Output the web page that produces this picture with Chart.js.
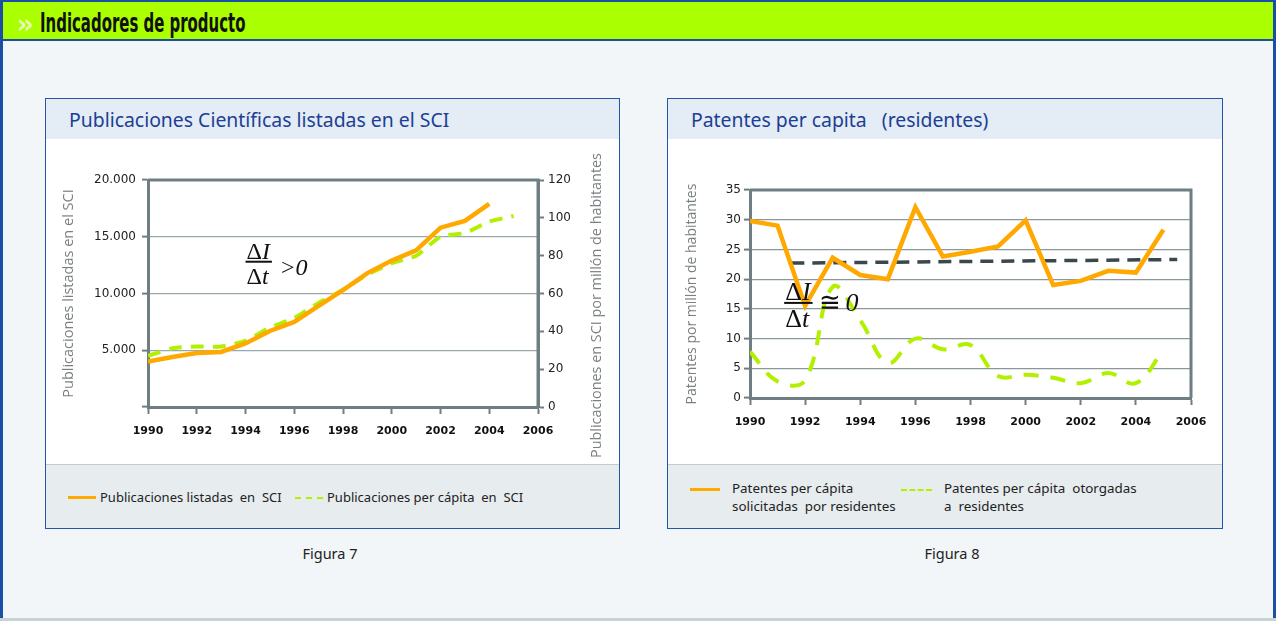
<!DOCTYPE html>
<html>
<head>
<meta charset="utf-8">
<script src="https://cdn.jsdelivr.net/npm/chart.js@4"></script>
<style>
  body { margin: 0; background: #fff; }
  #page { position: relative; width: 1276px; height: 621px; overflow: hidden; background: #f2f6f8; font-family: "Noto Sans", sans-serif; }
  #page .bl { position: absolute; left: 0; top: 0; width: 3px; height: 621px; background: #1b4fa6; }
  #page .br { position: absolute; right: 0; top: 0; width: 3px; height: 621px; background: #1b4fa6; }
  #page .bb { position: absolute; left: 0; bottom: 0; width: 1276px; height: 3px; background: #c4d4d4; }
  .header { position: absolute; left: 0; top: 0; width: 1276px; height: 41px; background: #aaff00; border-top: 2px solid #1b4fa6; border-bottom: 2px solid #1b4fa6; box-sizing: border-box; }
  .header .chev { position: absolute; left: 17px; top: 6px; color: #eaffc2; font: bold 27px "DejaVu Sans", sans-serif; letter-spacing: -4px; transform: scaleX(0.9); transform-origin: left; }
  .header .txt { position: absolute; left: 40px; top: 5px; font: bold 27px "Liberation Sans Narrow", "DejaVu Sans Condensed", sans-serif; color: #111; transform: scaleX(0.615); transform-origin: left; white-space: nowrap; }
  .panel { position: absolute; top: 98px; border: 1px solid #2456a8; background: #fff; box-sizing: border-box; }
  .panel .ttl { position: absolute; left: 0; top: 0; right: 0; height: 40px; background: #e4ecf5; color: #1c3f94; font-size: 19.4px; line-height: 42px; padding-left: 23px; white-space: nowrap; }
  .panel canvas { position: absolute; left: 0; top: 40px; }
  .panel .leg { position: absolute; left: 0; right: 0; bottom: 0; height: 63px; background: #e7ecef; border-top: 1px solid #c3cbcf; font-size: 13.4px; color: #222; }
  .leg .it { position: absolute; white-space: nowrap; line-height: 18px; }
  .leg .sw { position: absolute; width: 28px; height: 0; }
  .cap { position: absolute; top: 543px; font-size: 14.5px; color: #222; width: 200px; text-align: center; }
</style>
</head>
<body>
<div id="page">
  <div class="header"><span class="chev">››</span><span class="txt">Indicadores de producto</span></div>
  <div class="bl"></div><div class="br"></div><div class="bb"></div>

  <div class="panel" style="left:45px; width:575px; height:431px;">
    <div class="ttl">Publicaciones Científicas listadas en el SCI</div>
    <canvas id="c1" width="573" height="326"></canvas>
    <div class="leg" id="leg1"></div>
  </div>
  <div class="cap" style="left:230px;">Figura 7</div>

  <div class="panel" style="left:667px; width:556px; height:431px;">
    <div class="ttl">Patentes per capita&nbsp;&nbsp; (residentes)</div>
    <canvas id="c2" width="554" height="326"></canvas>
    <div class="leg" id="leg2"></div>
  </div>
  <div class="cap" style="left:852px;">Figura 8</div>
</div>

<script>
// Figura 7 data
const years = [1990, 1991, 1992, 1993, 1994, 1995, 1996, 1997, 1998, 1999, 2000, 2001, 2002, 2003, 2004, 2005];
const pubListadas = [4000, 4400, 4750, 4850, 5600, 6700, 7500, 8900, 10300, 11800, 12900, 13800, 15800, 16400, 17900];
const pubPerCapita = [27, 31, 32, 32, 35, 42, 47, 55, 62, 70, 76, 80, 90, 92, 98, 101];

// Figura 8 data
const patSolicitadas = [29.8, 29.0, 15.5, 23.6, 20.7, 20.0, 32.1, 23.8, 24.6, 25.5, 29.9, 19.0, 19.7, 21.4, 21.1, 28.3];
const patOtorgadas = [7.8, 2.8, 3.0, 18.7, 13.1, 5.9, 10.0, 8.2, 8.9, 3.7, 3.9, 3.4, 2.5, 4.2, 2.5, 8.1];
const tendYears = [1991.5, 2005.5];
const tendValues = [22.7, 23.3];

const ORANGE = '#ffa800';
const LIME = '#b2f000';
const AXIS = '#6e7e83';
const GRID = '#9aa8ad';
const TITLE_GREY = '#7a7f82';

const pts = (xs, ys) => ys.map((v, i) => ({ x: xs[i], y: v }));
const miles = v => String(v).replace(/\B(?=(\d{3})+(?!\d))/g, '.');

// frame: top line + right line of the plot area
const frame = {
    id: 'frame',
    beforeDatasetsDraw(chart) {
        const { ctx, chartArea: a } = chart;
        ctx.save();
        ctx.strokeStyle = AXIS;
        ctx.lineWidth = 3;
        ctx.beginPath();
        ctx.moveTo(a.left, a.top);
        ctx.lineTo(a.right, a.top);
        ctx.lineTo(a.right, a.bottom);
        ctx.stroke();
        ctx.restore();
    }
};

// ΔI/Δt formula at a data position
const drawFormula = (chart, fx, fy, size, rel, relGap, relDy, zeroGap) => {
    const ctx = chart.ctx;
    const x = chart.scales.x.getPixelForValue(fx);
    const y = chart.scales.y.getPixelForValue(fy);
    const up = `${size}px "Liberation Serif", serif`;
    const it = `italic ${size}px "Liberation Serif", serif`;
    ctx.save();
    ctx.fillStyle = '#111';
    ctx.textBaseline = 'alphabetic';
    ctx.font = up;
    const dw = ctx.measureText('Δ').width;
    ctx.font = it;
    const iw = ctx.measureText('I').width, tw = ctx.measureText('t').width;
    const w = dw + Math.max(iw, tw) + 3;
    ctx.font = up;
    ctx.fillText('Δ', x + 1, y - 3);
    ctx.fillText('Δ', x + 1, y + size - 2);
    ctx.font = it;
    ctx.fillText('I', x + 1 + dw, y - 3);
    ctx.fillText('t', x + 1 + dw, y + size - 2);
    ctx.fillRect(x, y - 1, w, 2);
    ctx.font = up;
    const rx = x + w + relGap;
    ctx.fillText(rel, rx, y + relDy);
    const rw = ctx.measureText(rel).width;
    ctx.font = it;
    ctx.fillText('0', rx + rw + zeroGap, y + relDy);
    ctx.restore();
};

const xScale = (h) => ({
    type: 'linear', min: 1990, max: 2006,
    ticks: { stepSize: 2, padding: 11, color: '#111', font: { family: 'DejaVu Sans', size: 11, weight: 'bold' }, callback: v => String(v) },
    grid: { drawOnChartArea: false, tickLength: 7, tickColor: AXIS, tickWidth: 2 },
    border: { color: AXIS, width: 3 },
    afterFit: s => { s.height = h; }
});

// Figura 7
new Chart(document.getElementById('c1'), {
    type: 'line',
    data: {
        datasets: [
            { label: 'Publicaciones listadas en SCI', data: pts(years, pubListadas), yAxisID: 'y', borderColor: ORANGE, borderWidth: 4.5, pointRadius: 0, tension: 0 },
            { label: 'Publicaciones per cápita en SCI', data: pts(years, pubPerCapita), yAxisID: 'y1', borderColor: LIME, borderWidth: 4, borderDash: [13, 9], pointRadius: 0, tension: 0.2 }
        ]
    },
    options: {
        responsive: false, animation: false, devicePixelRatio: 1,
        layout: { padding: { top: 41, right: 0, left: 0, bottom: 0 } },
        plugins: { legend: { display: false }, tooltip: { enabled: false } },
        scales: {
            x: xScale(58),
            y: {
                min: 0, max: 20000,
                ticks: { stepSize: 5000, padding: 6, color: '#222', font: { family: 'DejaVu Sans', size: 12 }, callback: v => v === 0 ? '' : miles(v) },
                grid: { color: c => c.tick && c.tick.value === 20000 ? AXIS : GRID, lineWidth: 1.2, tickLength: 6, tickColor: AXIS, tickWidth: 2 },
                border: { color: AXIS, width: 3 },
                title: { display: true, text: 'Publicaciones listadas en el SCI', color: TITLE_GREY, font: { family: 'Open Sans', size: 14.5 }, padding: { top: 14, bottom: 0 } },
                afterFit: s => { s.width = 102; }
            },
            y1: {
                position: 'right', min: 0, max: 120,
                ticks: { stepSize: 20, padding: 4, color: '#222', font: { family: 'DejaVu Sans', size: 12 } },
                grid: { drawOnChartArea: false, tickLength: 6, tickColor: AXIS, tickWidth: 2 },
                border: { color: AXIS, width: 3 },
                afterFit: s => { s.width = 81; }
            }
        }
    },
    plugins: [frame, {
        id: 'extras',
        afterDatasetsDraw(chart) {
            drawFormula(chart, 1994, 12800, 24, '>', 9, 13, 1);
            const { ctx, chartArea: a } = chart;
            ctx.save();
            ctx.translate(chart.width - 22, (a.top + a.bottom) / 2 + 12);
            ctx.rotate(-Math.PI / 2);
            ctx.textAlign = 'center';
            ctx.textBaseline = 'middle';
            ctx.fillStyle = TITLE_GREY;
            ctx.font = '14.4px "Open Sans"';
            ctx.fillText('Publicaciones en SCI por millón de habitantes', 0, 0);
            ctx.restore();
        }
    }]
});

// Figura 8
new Chart(document.getElementById('c2'), {
    type: 'line',
    data: {
        datasets: [
            { label: 'Patentes per cápita solicitadas por residentes', data: pts(years, patSolicitadas), borderColor: ORANGE, borderWidth: 4.5, pointRadius: 0, tension: 0 },
            { label: 'Patentes per cápita otorgadas a residentes', data: pts(years, patOtorgadas), borderColor: LIME, borderWidth: 4, borderDash: [15, 12], pointRadius: 0, tension: 0.4 },
            { label: 'Tendencia', data: pts(tendYears, tendValues), borderColor: '#3a474c', borderWidth: 3.5, borderDash: [13, 8], pointRadius: 0 }
        ]
    },
    options: {
        responsive: false, animation: false, devicePixelRatio: 1,
        layout: { padding: { top: 51, right: 31, left: 0, bottom: 0 } },
        plugins: { legend: { display: false }, tooltip: { enabled: false } },
        scales: {
            x: xScale(67),
            y: {
                min: 0, max: 35,
                ticks: { stepSize: 5, padding: 3, color: '#222', font: { family: 'DejaVu Sans', size: 12 } },
                grid: { color: c => c.tick && c.tick.value === 35 ? AXIS : '#8a989d', lineWidth: 1.2, tickLength: 6, tickColor: AXIS, tickWidth: 2 },
                border: { color: AXIS, width: 3 },
                title: { display: true, text: 'Patentes por millón de habitantes', color: TITLE_GREY, font: { family: 'Open Sans', size: 14 }, padding: { top: 16, bottom: 0 } },
                afterFit: s => { s.width = 82; }
            }
        }
    },
    plugins: [frame, {
        id: 'extras',
        afterDatasetsDraw(chart) {
            drawFormula(chart, 1991.24, 16.0, 26, '≅', 6, 8, 5);
        }
    }]
});

// legends
const legend = (el, items) => {
    el.innerHTML = items.map(it => `
        <div class="sw" style="left:${it.sx}px; top:${it.sy}px; border-top:${it.dash ? '2px dashed' : '3px solid'} ${it.color}; width:${it.sw}px"></div>
        <div class="it" style="left:${it.tx}px; top:${it.ty}px; font-size:${it.fs}px">${it.text}</div>`).join('');
};
legend(document.getElementById('leg1'), [
    { color: ORANGE, sx: 22, sy: 31, sw: 28, tx: 54, ty: 23, fs: 13, text: 'Publicaciones listadas&nbsp; en&nbsp; SCI' },
    { color: LIME, dash: true, sx: 249, sy: 32, sw: 28, tx: 281, ty: 23, fs: 13, text: 'Publicaciones per cápita&nbsp; en&nbsp; SCI' }
]);
legend(document.getElementById('leg2'), [
    { color: ORANGE, sx: 22, sy: 23, sw: 30, tx: 64, ty: 14, fs: 13.4, text: 'Patentes per cápita<br>solicitadas&nbsp; por residentes' },
    { color: LIME, dash: true, sx: 233, sy: 24, sw: 31, tx: 276, ty: 14, fs: 13.4, text: 'Patentes per cápita&nbsp; otorgadas<br>a&nbsp; residentes' }
]);
</script>
</body>
</html>
